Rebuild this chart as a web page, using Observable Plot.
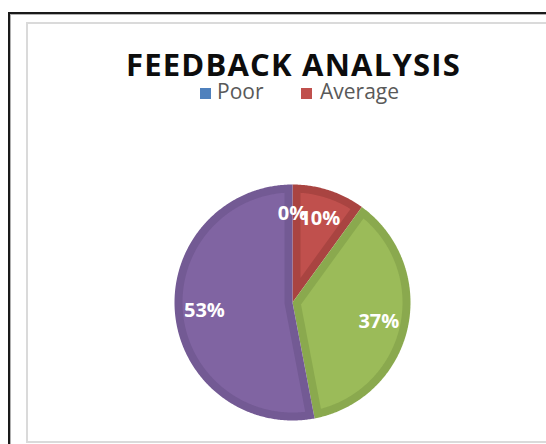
<!DOCTYPE html>
<html><head><meta charset="utf-8">
<script src="https://cdn.jsdelivr.net/npm/d3@7"></script>
<script src="https://cdn.jsdelivr.net/npm/@observablehq/plot@0.6"></script>
<style>
html,body{margin:0;padding:0;background:#fff;width:546px;height:444px;overflow:hidden;position:relative;font-family:"Open Sans",sans-serif}
#outer{position:absolute;left:8px;top:12px;width:600px;height:500px;border-left:2px solid #1a1a1a;border-top:2px solid #1a1a1a;box-shadow:inset 1px 1px 0 #b0b0b0}
#inner{position:absolute;left:26px;top:22px;width:600px;height:417px;border:2px solid #dadada}
#chart{position:absolute;left:0;top:0}
#title{position:absolute;left:0;width:587px;top:49px;text-align:center;font:700 31px/1 "Open Sans",sans-serif;letter-spacing:1.2px;color:#0d0d0d;white-space:nowrap}
.leg{position:absolute;top:81px;font:400 21px/1 "Open Sans",sans-serif;color:#595959;white-space:nowrap}
.sw{position:absolute;width:11px;height:11px;top:87.5px}
</style></head>
<body>
<div id="outer"></div>
<div id="inner"></div>
<div id="chart"></div>
<div id="title"></div>
<div id="legend"></div>
<script>
// ---- data ----
const categories = ["Poor", "Average", "Good", "Excellent"];
const values = [0, 10, 37, 53];
const labels = ["0%", "10%", "37%", "53%"];
const title = "FEEDBACK ANALYSIS";
const legendShown = ["Poor", "Average"];
// ---- styles ----
const fills = ["#4F81BD", "#C0504D", "#9BBB59", "#8064A2"];
const edges = ["#41699A", "#A94441", "#8AA94E", "#735A94"];

document.getElementById("title").textContent = title;
const legPos = [{sw:200, tx:217}, {sw:301, tx:320}];
const legEl = document.getElementById("legend");
legendShown.forEach((name, j) => {
  const i = categories.indexOf(name);
  const s = document.createElement("div");
  s.className = "sw"; s.style.left = legPos[j].sw + "px"; s.style.background = fills[i];
  const t = document.createElement("div");
  t.className = "leg"; t.style.left = legPos[j].tx + "px"; t.textContent = name;
  legEl.appendChild(s); legEl.appendChild(t);
});

// ---- geometry from values ----
const Rpx = 118, cx = 292, cy = 302, W = 546, H = 444;
const inset = 8 / Rpx;
const arcs = d3.pie().sort(null).value(d => d)(values);
const pt = (a, r) => ({x: r * Math.sin(a), y: r * Math.cos(a)});
const outerPts = [], innerPts = [], labelPts = [];
arcs.forEach((p, i) => {
  const a0 = p.startAngle, a1 = p.endAngle, th = a1 - a0;
  const mid = (a0 + a1) / 2;
  labelPts.push({...pt(mid, 0.75), t: labels[i]});
  if (th <= 0) return;
  const n = Math.max(2, Math.ceil(th / 0.01));
  outerPts.push({...pt(0, 0), k: i, c: edges[i]});
  for (let j = 0; j <= n; j++) outerPts.push({...pt(a0 + th * j / n, 1), k: i, c: edges[i]});
  // inset polygon
  const rho = 1 - inset, del = Math.asin(inset / rho);
  if (th <= 2 * del) return;
  if (th < Math.PI) {
    innerPts.push({...pt(mid, inset / Math.sin(th / 2)), k: i, c: fills[i]});
  } else {
    innerPts.push({...pt(a1 - Math.PI / 2, inset), k: i, c: fills[i]});
    innerPts.push({...pt(mid, inset), k: i, c: fills[i]});
    innerPts.push({...pt(a0 + Math.PI / 2, inset), k: i, c: fills[i]});
  }
  const b0 = a0 + del, b1 = a1 - del, m = Math.max(2, Math.ceil((b1 - b0) / 0.01));
  for (let j = 0; j <= m; j++) innerPts.push({...pt(b0 + (b1 - b0) * j / m, rho), k: i, c: fills[i]});
});

const chart = Plot.plot({
  width: W, height: H, margin: 0,
  style: {background: "transparent", overflow: "visible"},
  x: {domain: [-cx / Rpx, (W - cx) / Rpx], axis: null},
  y: {domain: [-(H - cy) / Rpx, cy / Rpx], axis: null},
  color: {type: "identity"},
  marks: [
    Plot.line(outerPts, {x: "x", y: "y", z: "k", fill: "c", stroke: "none"}),
    Plot.line(innerPts, {x: "x", y: "y", z: "k", fill: "c", stroke: "none"}),
    Plot.text(labelPts, {x: "x", y: "y", text: "t", fill: "white", fontSize: 20, fontWeight: 700, fontFamily: "Open Sans", lineAnchor: "middle"})
  ]
});
document.getElementById("chart").appendChild(chart);
</script>
</body></html>
